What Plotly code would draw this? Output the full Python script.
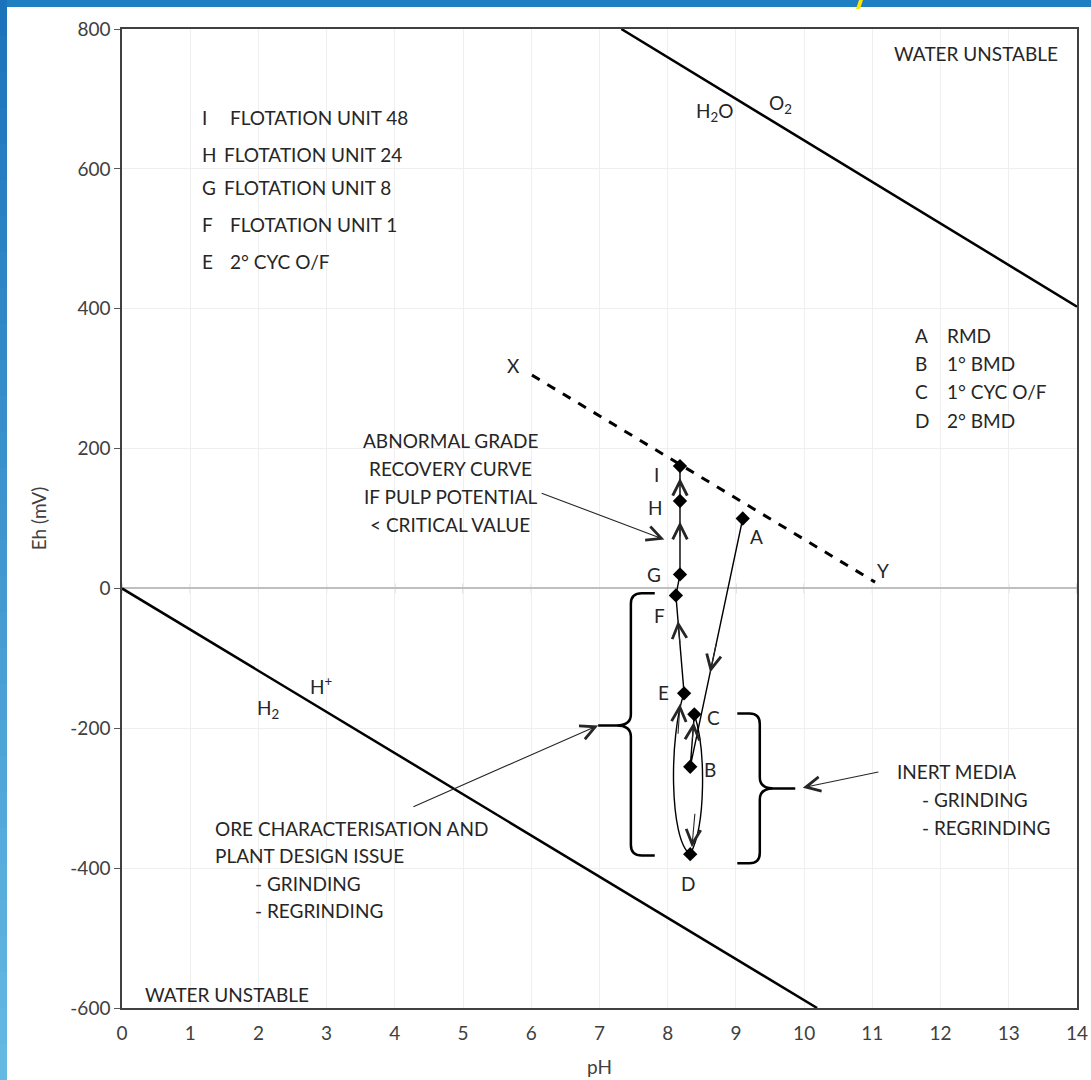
import plotly.graph_objects as go

# ---------------- data ----------------
pt_names = ["A", "B", "C", "D", "E", "F", "G", "H", "I"]
pt_ph = [9.10, 8.33, 8.39, 8.33, 8.24, 8.12, 8.18, 8.18, 8.18]
pt_eh = [100, -255, -180, -380, -150, -10, 20, 125, 175]

o2_ph = [7.32, 14.0]
o2_eh = [800, 403]
h2_ph = [0.0, 10.19]
h2_eh = [0, -600]
xy_ph = [6.01, 11.04]
xy_eh = [305, 9]

left_key_letters = ["I", "H", "G", "F", "E"]
left_key_text = ["FLOTATION UNIT 48", "FLOTATION UNIT 24", "FLOTATION UNIT 8",
                 "FLOTATION UNIT 1", "2° CYC O/F"]
right_key_letters = ["A", "B", "C", "D"]
right_key_text = ["RMD", "1° BMD", "1° CYC O/F", "2° BMD"]
abnormal_lines = ["ABNORMAL GRADE", "RECOVERY CURVE", "IF PULP POTENTIAL", "< CRITICAL VALUE"]
ore_lines = ["ORE CHARACTERISATION AND", "PLANT DESIGN ISSUE", "- GRINDING", "- REGRINDING"]
inert_lines = ["INERT MEDIA", "- GRINDING", "- REGRINDING"]

x_ticks = list(range(0, 15))
y_ticks = [-600, -400, -200, 0, 200, 400, 600, 800]
y_tick_text = ["-600", "-400", "-200", "0", "200", "400", "600", "800"]

P = {n: (x, y) for n, x, y in zip(pt_names, pt_ph, pt_eh)}

FONT = "Lato"
FS = 19
TXT = "#262626"

W, H = 1091, 1080
ML, MR, MT, MB = 122, 14, 29, 72
PW, PH = W - ML - MR, H - MT - MB

fig = go.Figure()

# water stability lines
fig.add_trace(go.Scatter(x=o2_ph, y=o2_eh, mode="lines", line=dict(color="black", width=2.5),
                         hoverinfo="skip", showlegend=False))
fig.add_trace(go.Scatter(x=h2_ph, y=h2_eh, mode="lines", line=dict(color="black", width=2.5),
                         hoverinfo="skip", showlegend=False))
# X-Y dashed line
fig.add_trace(go.Scatter(x=xy_ph, y=xy_eh, mode="lines",
                         line=dict(color="black", width=3, dash="dash"),
                         hoverinfo="skip", showlegend=False))

# A -> B -> C path
seq1 = ["A", "B", "C"]
fig.add_trace(go.Scatter(x=[P[n][0] for n in seq1], y=[P[n][1] for n in seq1], mode="lines",
                         line=dict(color="black", width=1.4), hoverinfo="skip", showlegend=False))
# E -> F -> G -> H -> I path
seq2 = ["E", "F", "G", "H", "I"]
fig.add_trace(go.Scatter(x=[P[n][0] for n in seq2], y=[P[n][1] for n in seq2], mode="lines",
                         line=dict(color="black", width=1.4), hoverinfo="skip", showlegend=False))

# curves C -> D (right) and D -> E (left)
cx, cy = P["C"]; dx_, dy_ = P["D"]; ex, ey = P["E"]
curves = [
    f"M {cx},{cy} C 8.56,{cy-50} 8.56,{dy_+40} {dx_},{dy_}",
    f"M {dx_},{dy_} C 8.02,{dy_+20} 8.02,{ey-60} {ex},{ey}",
]
shapes = []
for c in curves:
    shapes.append(dict(type="path", path=c, xref="x", yref="y",
                       line=dict(color="black", width=1.4), layer="above"))

# markers
fig.add_trace(go.Scatter(x=pt_ph, y=pt_eh, mode="markers",
                         marker=dict(symbol="diamond", size=11, color="black"),
                         hoverinfo="skip", showlegend=False))

# zero line crossing ticks
for xv in x_ticks:
    shapes.append(dict(type="line", xref="x", yref="paper", x0=xv, x1=xv,
                       y0=(PH * (600 / 1400) - 5) / PH, y1=(PH * (600 / 1400) + 5) / PH,
                       line=dict(color="#bfbfbf", width=1), layer="below"))

# braces
lb = ("M 7.81,-7 L 7.62,-7 Q 7.46,-7 7.46,-22 L 7.46,-180 Q 7.46,-196 7.25,-196 L 6.98,-196 "
      "M 7.25,-196 Q 7.46,-196 7.46,-212 L 7.46,-367 Q 7.46,-382 7.62,-382 L 7.81,-382")
rb = ("M 9.02,-179 L 9.20,-179 Q 9.35,-179 9.35,-194 L 9.35,-270 Q 9.35,-286 9.55,-286 L 9.87,-286 "
      "M 9.55,-286 Q 9.35,-286 9.35,-302 L 9.35,-378 Q 9.35,-393 9.20,-393 L 9.02,-393")
for p in (lb, rb):
    shapes.append(dict(type="path", path=p, xref="x", yref="y",
                       line=dict(color="black", width=2.5), layer="above"))

# slide frame (blue top band, gradient left strip, yellow flick)
def px2paper_x(px):
    return (px - ML) / PW

def px2paper_y(py):
    return 1 - (py - MT) / PH

shapes.append(dict(type="rect", xref="paper", yref="paper", x0=px2paper_x(0), x1=px2paper_x(W),
                   y0=px2paper_y(7), y1=px2paper_y(0), fillcolor="#1e80c0", line=dict(width=0),
                   layer="above"))
nb = 30
top_c = (0x1b, 0x74, 0xbb)
bot_c = (0x64, 0xb9, 0xe3)
for i in range(nb):
    t = i / (nb - 1)
    col = "rgb(%d,%d,%d)" % tuple(round(a + (b - a) * t) for a, b in zip(top_c, bot_c))
    shapes.append(dict(type="rect", xref="paper", yref="paper", x0=px2paper_x(0), x1=px2paper_x(7),
                       y0=px2paper_y(H * (i + 1) / nb), y1=px2paper_y(H * i / nb),
                       fillcolor=col, line=dict(width=0), layer="above"))
shapes.append(dict(type="path", xref="paper", yref="paper",
                   path=f"M {px2paper_x(859)},{px2paper_y(0)} L {px2paper_x(863)},{px2paper_y(0)} "
                        f"L {px2paper_x(860)},{px2paper_y(9)} L {px2paper_x(856)},{px2paper_y(9)} Z",
                   fillcolor="#ffe600", line=dict(width=0), layer="above"))

ann = []

def text(x, y, s, xanchor="left", size=FS, xshift=0, yshift=0):
    ann.append(dict(x=x, y=y, xref="x", yref="y", text=s, showarrow=False, xanchor=xanchor,
                    yanchor="middle", xshift=xshift, yshift=yshift,
                    font=dict(family=FONT, size=size, color=TXT)))

def arrow(tail, head, width=1.1, size=2.6, head_style=5):
    ann.append(dict(x=head[0], y=head[1], ax=tail[0], ay=tail[1], xref="x", yref="y",
                    axref="x", ayref="y", text="", showarrow=True, arrowhead=head_style,
                    arrowsize=size, arrowwidth=width, arrowcolor="#262626", standoff=0,
                    startstandoff=0))

def lerp(a, b, t):
    return (P[a][0] + (P[b][0] - P[a][0]) * t, P[a][1] + (P[b][1] - P[a][1]) * t)

# direction arrows along the path
arrow(lerp("A", "B", 0.5), lerp("A", "B", 0.62))
arrow(lerp("B", "C", 0.5), lerp("B", "C", 0.85))
arrow(lerp("E", "F", 0.5), lerp("E", "F", 0.74))
arrow(lerp("G", "H", 0.5), lerp("G", "H", 0.72))
arrow(lerp("H", "I", 0.4), lerp("H", "I", 0.66))
arrow((dx_ + 0.07, dy_ + 60), (dx_ + 0.025, dy_ + 10))
arrow((ex - 0.09, ey - 60), (ex - 0.06, ey - 15))

# pointer arrows
arrow((6.13, 137), (7.95, 70))
arrow((4.25, -313), (6.98, -196))
arrow((11.11, -262), (9.98, -285))

# point labels (pixel offsets from their markers)
lab_off = {"A": (14, -18), "B": (20, -3), "C": (19, -3), "D": (-2, -29), "E": (-21, 1),
           "F": (-16, -20), "G": (-26, 0), "H": (-24, -6), "I": (-23, -8)}
for n in pt_names:
    ox, oy = lab_off[n]
    text(P[n][0], P[n][1], n, xanchor="center", xshift=ox, yshift=oy)
text(xy_ph[0], xy_eh[0], "X", xanchor="center", xshift=-18, yshift=10)
text(xy_ph[1], xy_eh[1], "Y", xanchor="center", xshift=8, yshift=12)

# water labels
text(13.75, 765, "WATER UNSTABLE", xanchor="right")
text(0.31, -581, "WATER UNSTABLE")
text(8.68, 681, "H<sub>2</sub>O", xanchor="center")
text(9.65, 693, "O<sub>2</sub>", xanchor="center")
text(2.93, -139, "H<sup>+</sup>", xanchor="center")
text(2.14, -173, "H<sub>2</sub>", xanchor="center")

# left key
lk_y = [673, 621, 573, 520, 468]
lk_x = [1.55, 1.46, 1.46, 1.55, 1.55]
for L, T, yv, xv in zip(left_key_letters, left_key_text, lk_y, lk_x):
    text(1.14, yv, L)
    text(xv, yv, T)

# right key
rk_y = [362, 322, 282, 240]
for L, T, yv in zip(right_key_letters, right_key_text, rk_y):
    text(11.6, yv, L)
    text(12.07, yv, T)

for s, yv in zip(abnormal_lines, [212, 172, 132, 92]):
    text(4.81, yv, s, xanchor="center")
for s, yv, xv in zip(ore_lines, [-343, -382, -422, -460], [1.33, 1.33, 1.92, 1.92]):
    text(xv, yv, s)
for s, yv, xv in zip(inert_lines, [-262, -302, -342], [11.33, 11.70, 11.70]):
    text(xv, yv, s)

axis_font = dict(family=FONT, size=FS, color="#404040")
fig.update_layout(
    width=W, height=H,
    margin=dict(l=ML, r=MR, t=MT, b=MB, autoexpand=False),
    paper_bgcolor="white", plot_bgcolor="white",
    shapes=shapes, annotations=ann,
    xaxis=dict(range=[0, 14], tickvals=x_ticks, showgrid=True, gridcolor="#efefef", gridwidth=1,
               zeroline=False, showline=True, linecolor="#404040", linewidth=1.5, mirror=True,
               ticks="", tickfont=axis_font, ticklabelstandoff=7, automargin=False,
               title=dict(text="pH", font=axis_font, standoff=18)),
    yaxis=dict(range=[-600, 800], tickvals=y_ticks, ticktext=y_tick_text, showgrid=True,
               gridcolor="#efefef", gridwidth=1,
               zeroline=True, zerolinecolor="#bfbfbf", zerolinewidth=1.5,
               showline=True, linecolor="#404040", linewidth=1.5, mirror=True, automargin=False,
               ticks="outside", ticklen=6, tickcolor="#595959", tickfont=axis_font,
               title=dict(text="Eh (mV)", font=axis_font, standoff=19)),
)

fig.write_html("out.html", config={"displayModeBar": False},
               post_script="document.body.style.margin='0';document.body.style.overflow='hidden';")
